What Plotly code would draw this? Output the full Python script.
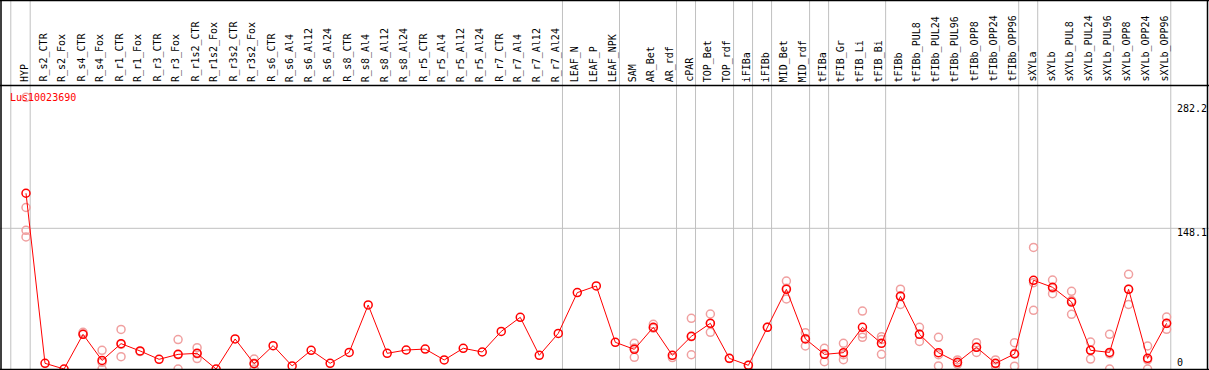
import plotly.graph_objects as go

categories = ["HYP", "R_s2_CTR", "R_s2_Fox", "R_s4_CTR", "R_s4_Fox", "R_r1_CTR", "R_r1_Fox",
              "R_r3_CTR", "R_r3_Fox", "R_r1s2_CTR", "R_r1s2_Fox", "R_r3s2_CTR", "R_r3s2_Fox",
              "R_s6_CTR", "R_s6_Al4", "R_s6_Al12", "R_s6_Al24", "R_s8_CTR", "R_s8_Al4",
              "R_s8_Al12", "R_s8_Al24", "R_r5_CTR", "R_r5_Al4", "R_r5_Al12", "R_r5_Al24",
              "R_r7_CTR", "R_r7_Al4", "R_r7_Al12", "R_r7_Al24", "LEAF_N", "LEAF_P", "LEAF_NPK",
              "SAM", "AR_Bet", "AR_rdf", "cPAR", "TOP_Bet", "TOP_rdf", "iFIBa", "iFIBb",
              "MID_Bet", "MID_rdf", "tFIBa", "tFIB_Gr", "tFIB_Li", "tFIB_Bi", "tFIBb",
              "tFIBb_PUL8", "tFIBb_PUL24", "tFIBb_PUL96", "tFIBb_OPP8", "tFIBb_OPP24",
              "tFIBb_OPP96", "sXYLa", "sXYLb", "sXYLb_PUL8", "sXYLb_PUL24", "sXYLb_PUL96",
              "sXYLb_OPP8", "sXYLb_OPP24", "sXYLb_OPP96"]

mean_values = [185, 6, 0, 36.5, 9, 26.7, 19, 10.2, 15.4, 16.5, 0, 31.6, 5.6,
               24.6, 3.2, 19.7, 6, 17.5, 67.4, 16.5, 20, 21, 9.5, 21.8, 17.9,
               39.6, 54.4, 14.4, 37.5, 80.4, 87.4, 28.1,
               20.7, 43.9, 14.4, 34.4, 48.1, 11.2, 3.9, 43.9,
               83.9, 31.6, 15.4, 17.2, 43.9, 27, 76.5,
               36.5, 17.2, 7, 22.8, 6, 15.8, 93.4, 86, 70.5, 19.7, 17.5,
               83.9, 11.2, 48.1]

N = None
rep1 = [286, N, N, 38.6, 19.7, 41.7, 18.4, N, 31, 22.5, N, N, 10.5,
        N, N, N, N, N, N, N, N, N, N, N, N, N, N, N, N, N, N, N,
        27, 47, 12, 53.4, 57.9, 11, 4, 44, 92.6, 38.2, 21.8, 27, 61, 34, 84,
        43.9, 33.4, 9.5, 27.7, 9.5, 27.7, 128, 93.7, 81.8, 28.4, 36.5, 99.7, 24.2, 54.7]
rep2 = [170, N, N, 36.5, 0, 13, N, N, 0, 11, N, N, 0,
        N, N, N, N, N, N, N, N, N, N, N, N, N, N, N, N, N, N, N,
        12.3, 43, N, 15, 38.6, N, N, N, 73.7, 24.2, 7.7, 9.8, 33.4, 15.4, 68,
        29, 3.2, 5, 17.5, 3, 3, 61.8, 79.3, 57.6, 10.5, 0, 68, 0, 41.8]
rep3 = [146, N, N, N, 7, 26, N, N, 15, 16, N, N, 6,
        N, N, N, N, N, N, N, N, N, N, N, N, N, N, N, N, N, N, N,
        22, N, N, 34, 48, N, N, N, 85, 32, 16, 15, 37, 31, 77,
        36.5, 15, 6.5, 23, 5.5, 16.5, 90.9, 85, 72, 20, 16, 84, 9.5, 48]
rep4 = [139] + [N] * 60

group_ends = [0, 28, 31, 34, 35, 37, 38, 39, 41, 42, 45, 52, 53, 60]
grid_values = [148.1]
y_tick_labels = ["282.2", "148.1", "0"]
gene_id = "Lus10023690"

W, H = 1209, 370
TOP = 85
PH = H - TOP
STEP = 19.01
X0PX = 26.0
YSCALE = 0.95
Y0PX = 369.0

xr = [(0 - X0PX) / STEP, (W - X0PX) / STEP]
yr = [(Y0PX - H) / YSCALE, (Y0PX - TOP) / YSCALE]

def py2paper(py):
    return (H - py) / PH

def px2paper(px):
    return px / W

xs = list(range(len(categories)))
FONT = "DejaVu Sans Mono"

fig = go.Figure()
for reps in (rep1, rep2, rep3, rep4):
    fig.add_trace(go.Scatter(
        x=xs, y=reps, mode="markers",
        marker=dict(symbol="circle-open", size=8, color="#f0a0a0", line=dict(width=1.5, color="#f0a0a0")),
        hoverinfo="skip", cliponaxis=True))
fig.add_trace(go.Scatter(
    x=xs, y=mean_values, mode="lines+markers",
    line=dict(color="#ff0000", width=1),
    marker=dict(symbol="circle-open", size=8, color="#ff0000", line=dict(width=1.5, color="#ff0000")),
    cliponaxis=True))

shapes = []
gray = "#c0c0c0"
ytop_paper = py2paper(0)
for gi in [-1.02] + group_ends:
    xv = gi + 0.22
    shapes.append(dict(type="line", xref="x", yref="paper", x0=xv, x1=xv, y0=0, y1=ytop_paper,
                       line=dict(color=gray, width=1), layer="below"))
for gv in grid_values:
    shapes.append(dict(type="line", xref="paper", yref="y", x0=0, x1=1, y0=gv, y1=gv,
                       line=dict(color=gray, width=1), layer="below"))
blk = dict(color="black", width=1.5)
for py in (0.5, 85.5, 369.5):
    shapes.append(dict(type="line", xref="paper", yref="paper", x0=0, x1=1,
                       y0=py2paper(py), y1=py2paper(py), line=blk))
for px in (1.0, 1207.5):
    shapes.append(dict(type="line", xref="paper", yref="paper", x0=px2paper(px), x1=px2paper(px),
                       y0=0, y1=ytop_paper, line=blk))

annotations = []
for i, name in enumerate(categories):
    annotations.append(dict(x=i, xref="x", xshift=-2, y=py2paper(84), yref="paper",
                            text=name, textangle=-90, showarrow=False,
                            xanchor="center", yanchor="bottom",
                            font=dict(family=FONT, size=10, color="black")))
for txt, py in zip(y_tick_labels, [108, 232.5, 362.5]):
    annotations.append(dict(x=px2paper(1175), xref="paper", y=py2paper(py), yref="paper",
                            text=txt, showarrow=False, xanchor="left", yanchor="middle",
                            font=dict(family=FONT, size=10, color="black")))
annotations.append(dict(x=px2paper(8), xref="paper", y=py2paper(97), yref="paper",
                        text=gene_id, showarrow=False, xanchor="left", yanchor="middle",
                        font=dict(family=FONT, size=10, color="#ff0000")))

fig.update_layout(
    width=W, height=H,
    margin=dict(l=0, r=0, t=TOP, b=0),
    paper_bgcolor="white", plot_bgcolor="white",
    showlegend=False,
    xaxis=dict(range=xr, visible=False, fixedrange=True),
    yaxis=dict(range=yr, visible=False, fixedrange=True),
    shapes=shapes, annotations=annotations,
)
fig.write_html("out.html", config={"displayModeBar": False},
               post_script="document.body.style.margin='0';document.body.style.overflow='hidden';")
